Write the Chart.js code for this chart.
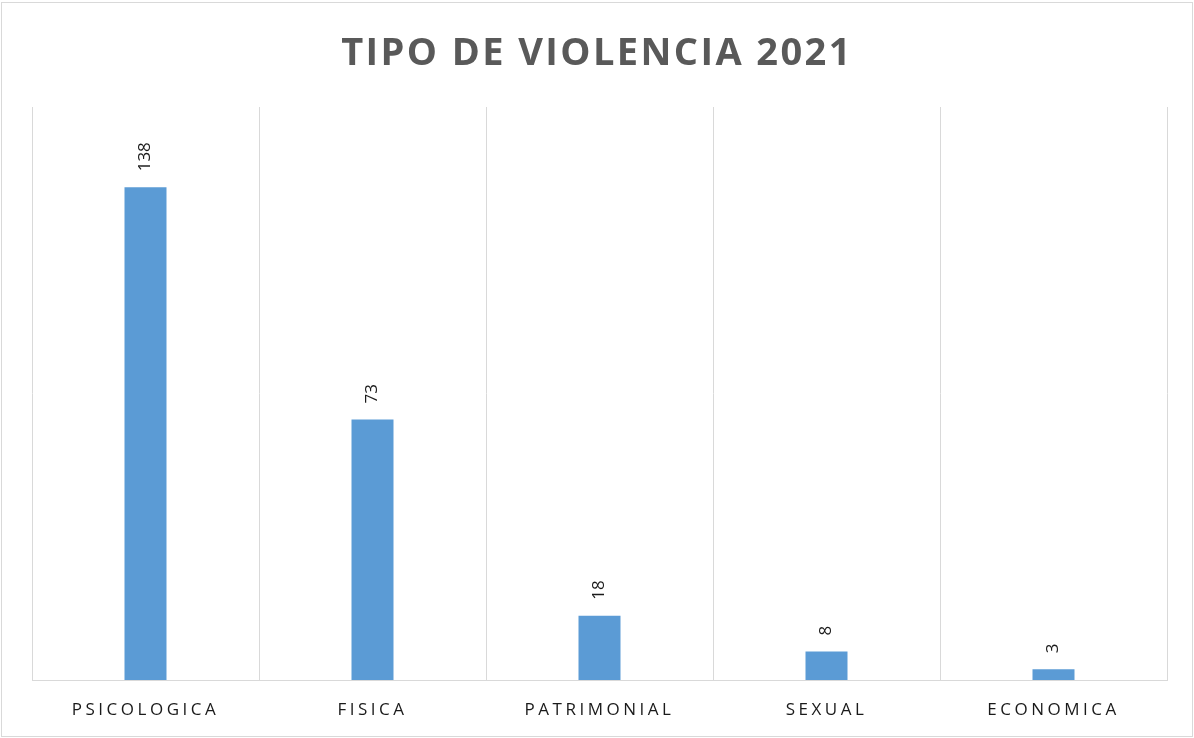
<!DOCTYPE html>
<html>
<head>
<meta charset="utf-8">
<script src="https://cdn.jsdelivr.net/npm/chart.js@4/dist/chart.umd.min.js"></script>
<style>
  html, body { margin: 0; padding: 0; background: #ffffff; }
  #wrap { position: relative; width: 1194px; height: 738px; overflow: hidden; }
  #c { position: absolute; left: 0; top: 0; }
  #frame { position: absolute; left: 1px; top: 2px; width: 1190px; height: 733px; border: 1px solid #d9d9d9; pointer-events: none; }
  #title { position: absolute; left: 0; top: 31px; width: 1194px; margin: 0; text-align: center;
    font-family: "Open Sans", sans-serif; font-weight: 700; font-size: 38px; line-height: 38px;
    letter-spacing: 2.4px; padding-left: 0px; box-sizing: border-box; color: #595959; }
</style>
</head>
<body>
<div id="wrap">
  <canvas id="c" width="1194" height="738"></canvas>
  <div id="frame"></div>
  <h1 id="title">TIPO DE VIOLENCIA 2021</h1>
</div>
<script>
const categories = ["PSICOLOGICA", "FISICA", "PATRIMONIAL", "SEXUAL", "ECONOMICA"];
const values = [138, 73, 18, 8, 3];
const yMin = 0;
const yMax = 160.5;

const valueLabels = {
  id: 'valueLabels',
  afterDatasetsDraw(chart) {
    const ctx = chart.ctx;
    const meta = chart.getDatasetMeta(0);
    ctx.save();
    ctx.letterSpacing = '0px';
    ctx.font = '17px "Open Sans", sans-serif';
    ctx.fillStyle = '#1a1a1a';
    ctx.textAlign = 'left';
    ctx.textBaseline = 'middle';
    meta.data.forEach((bar, i) => {
      ctx.save();
      ctx.translate(bar.x, bar.y - 16);
      ctx.rotate(-Math.PI / 2);
      ctx.fillText(String(values[i]), 0, 0);
      ctx.restore();
    });
    ctx.restore();
  }
};

const spacing = {
  id: 'spacing',
  beforeDraw(chart) { chart.ctx.letterSpacing = '3.5px'; }
};

new Chart(document.getElementById('c'), {
  type: 'bar',
  data: {
    labels: categories,
    datasets: [{
      data: values,
      backgroundColor: '#5B9BD5',
      borderWidth: 0,
      categoryPercentage: 1,
      barPercentage: 0.185
    }]
  },
  options: {
    responsive: false,
    animation: false,
    devicePixelRatio: 1,
    layout: { padding: { left: 32, right: 27, top: 107, bottom: 0 } },
    plugins: { legend: { display: false }, title: { display: false }, tooltip: { enabled: false } },
    scales: {
      x: {
        offset: true,
        grid: { display: true, color: '#d9d9d9', lineWidth: 1, drawTicks: false, offset: true },
        border: { display: true, color: '#d9d9d9', width: 1 },
        ticks: { color: '#1a1a1a', font: { family: '"Open Sans", sans-serif', size: 17 }, padding: 20, maxRotation: 0, autoSkip: false },
        afterFit(scale) { scale.height = 58; }
      },
      y: { display: false, min: yMin, max: yMax }
    }
  },
  plugins: [valueLabels, spacing]
});
</script>
</body>
</html>
